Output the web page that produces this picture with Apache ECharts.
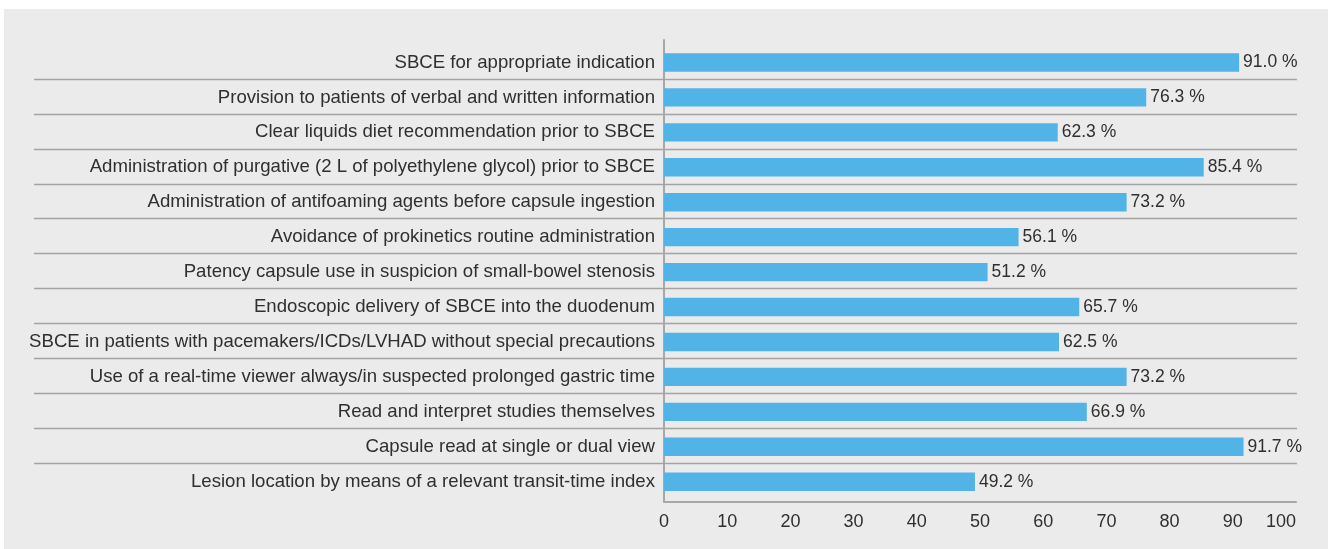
<!DOCTYPE html>
<html>
<head>
<meta charset="utf-8">
<script src="https://cdn.jsdelivr.net/npm/echarts@6/dist/echarts.min.js"></script>
<style>
html,body{margin:0;padding:0;background:#ffffff;}
#chart{width:1333px;height:549px;}
</style>
</head>
<body>
<div id="chart"></div>
<script>
const categories = [
  "SBCE for appropriate indication",
  "Provision to patients of verbal and written information",
  "Clear liquids diet recommendation prior to SBCE",
  "Administration of purgative (2 L of polyethylene glycol) prior to SBCE",
  "Administration of antifoaming agents before capsule ingestion",
  "Avoidance of prokinetics routine administration",
  "Patency capsule use in suspicion of small-bowel stenosis",
  "Endoscopic delivery of SBCE into the duodenum",
  "SBCE in patients with pacemakers/ICDs/LVHAD without special precautions",
  "Use of a real-time viewer always/in suspected prolonged gastric time",
  "Read and interpret studies themselves",
  "Capsule read at single or dual view",
  "Lesion location by means of a relevant transit-time index"
];
const values = [91.0, 76.3, 62.3, 85.4, 73.2, 56.1, 51.2, 65.7, 62.5, 73.2, 66.9, 91.7, 49.2];
const xTicks = [0, 10, 20, 30, 40, 50, 60, 70, 80, 90, 100];

const FONT = "'Liberation Sans', Arial, sans-serif";
const TEXT = '#2f2f2f';
const chart = echarts.init(document.getElementById('chart'), null, {renderer: 'canvas'});
chart.setOption({
  animation: false,
  backgroundColor: '#ffffff',
  graphic: [{
    type: 'rect', z: -10, silent: true,
    shape: {x: 4, y: 9, width: 1324, height: 545},
    style: {fill: '#eaebea'}
  }],
  grid: [
    {left: 34, right: 36, top: 44, height: 454.2, containLabel: false},
    {left: 664, width: 632, top: 45, height: 454.2, containLabel: false},
    {left: 664, width: 632, top: 40, height: 461.7, containLabel: false}
  ],
  xAxis: [
    {gridIndex: 0, type: 'value', min: 0, max: 1, show: false},
    {gridIndex: 1, type: 'value', min: 0, max: 100, show: false},
    {gridIndex: 2, type: 'value', min: xTicks[0], max: xTicks[xTicks.length - 1], interval: 10,
     axisLine: {show: true, onZero: false, lineStyle: {color: '#a7a7a7', width: 2}},
     axisTick: {show: false},
     splitLine: {show: false},
     axisLabel: {show: true, color: TEXT, fontFamily: FONT, fontSize: 18, margin: 11, alignMaxLabel: 'right'}}
  ],
  yAxis: [
    {gridIndex: 0, type: 'category', data: categories, inverse: true,
     axisLine: {show: false}, axisTick: {show: false}, axisLabel: {show: false},
     splitLine: {show: true, showMinLine: false, showMaxLine: false, lineStyle: {color: '#a3a3a3', width: 1.3}}},
    {gridIndex: 1, type: 'category', data: categories, inverse: true,
     axisLine: {show: false}, axisTick: {show: false}, splitLine: {show: false},
     axisLabel: {show: true, color: TEXT, fontFamily: FONT, fontSize: 18.6, margin: 9, align: 'right'}},
    {gridIndex: 2, type: 'value', min: 0, max: 1,
     axisLine: {show: true, onZero: false, lineStyle: {color: '#a7a7a7', width: 2}},
     axisTick: {show: false}, axisLabel: {show: false}, splitLine: {show: false}}
  ],
  series: [{
    type: 'bar',
    xAxisIndex: 1, yAxisIndex: 1,
    data: values,
    barWidth: 18.4,
    itemStyle: {color: '#52b3e6'},
    label: {
      show: true, position: 'right', distance: 4,
      color: TEXT, fontFamily: FONT, fontSize: 17.5,
      formatter: p => p.value.toFixed(1) + ' %'
    }
  }]
});
</script>
</body>
</html>
